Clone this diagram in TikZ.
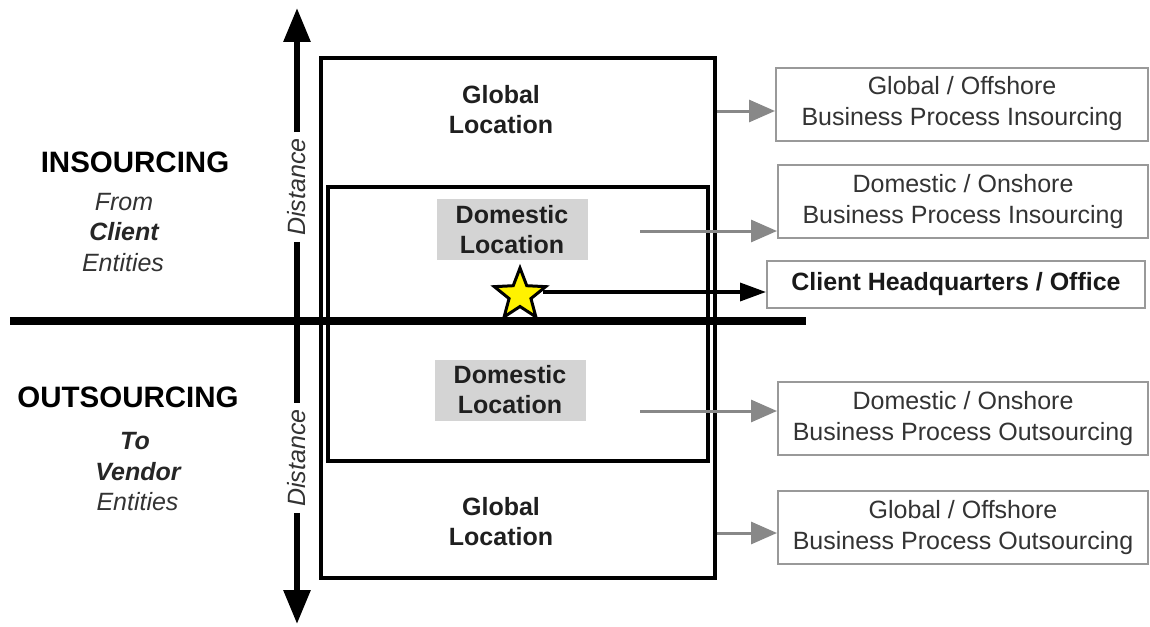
\documentclass[tikz,border=0pt]{standalone}
\usepackage{fontspec}
\setmainfont{Liberation Sans}
\usetikzlibrary{arrows.meta}
\definecolor{txt}{HTML}{333333}
\definecolor{boxline}{HTML}{999999}
\definecolor{arrowgray}{HTML}{888888}
\definecolor{locfill}{HTML}{D4D4D4}
\definecolor{staryellow}{HTML}{FFF200}
\tikzset{
  base/.style={font=\fontsize{25}{30}\selectfont, text=txt},
  region/.style={draw=black, line width=3.5pt, inner sep=0pt},
  loclabel/.style={base, text=black!88, font=\fontsize{25}{30}\selectfont\bfseries, align=center},
  locbox/.style={loclabel, fill=locfill, minimum width=151pt, minimum height=61pt, inner sep=0pt},
  resultbox/.style={base, font=\fontsize{25}{31}\selectfont, draw=boxline, line width=2pt, align=center,
    minimum width=372pt, minimum height=73pt, inner sep=0pt},
  heading/.style={base, text=black, font=\fontsize{29.5}{34}\selectfont\bfseries},
  sidetext/.style={base, font=\fontsize{25}{30}\selectfont\itshape},
  sidebold/.style={base, text=black!85, font=\fontsize{25}{30}\selectfont\bfseries\itshape},
  distlabel/.style={base, font=\fontsize{25}{30}\selectfont\itshape, rotate=90, inner sep=6pt},
  axis/.style={line width=6pt, black},
  axishead/.style={-{Triangle[length=34pt,width=26pt]}},
  grayarrow/.style={arrowgray, line width=3pt, -{Triangle[length=26pt,width=22pt]}},
  blackarrow/.style={black, line width=3.5pt, -{Triangle[length=26pt,width=18pt]}},
  starstyle/.style={fill=staryellow, draw=black, line width=3pt, line join=miter},
}
\begin{document}
\begin{tikzpicture}[x=1pt,y=-1pt]
\useasboundingbox (0,0) rectangle (1150,626);

% location regions
\node[region, minimum width=394pt, minimum height=520pt] (outer) at (518,318) {};
\node[region, minimum width=380pt, minimum height=274pt] (inner) at (518,324) {};

\node[loclabel] (gtop) at (501,110) {Global\\Location};
\node[loclabel] (gbot) at (501,522) {Global\\Location};
\node[locbox] (dtop) at (512,229.5) {Domestic\\Location};
\node[locbox] (dbot) at (510,390) {Domestic\\Location};

% client / vendor divide
\coordinate (hl) at (10,321);
\coordinate (hr) at (806,321);
\draw[line width=8pt] (hl) -- (hr);

% distance axis
\node[distlabel] (dist1) at (297,187) {Distance};
\node[distlabel] (dist2) at (297,458) {Distance};
\coordinate (ytop) at (297,8);
\coordinate (ybot) at (297,624);
\draw[axis, axishead] (dist1.east) -- (ytop);
\draw[axis] (dist1.west) -- (dist2.east);
\draw[axis, axishead] (dist2.west) -- (ybot);

% side headings
\node[heading] (ins) at (135,162) {INSOURCING};
\node[sidetext] (from) at (124,202) {From};
\node[sidebold] (client) at (124,232) {Client};
\node[sidetext] (ent1) at (123,263) {Entities};

\node[heading] (outs) at (128,397) {OUTSOURCING};
\node[sidebold] (to) at (135,441) {To};
\node[sidebold] (vendor) at (138,472) {Vendor};
\node[sidetext] (ent2) at (137.5,502) {Entities};

% result boxes
\node[resultbox] (r1) at (962,104) {Global / Offshore\\Business Process Insourcing};
\node[resultbox, minimum width=370pt] (r2) at (963,201.5) {Domestic / Onshore\\Business Process Insourcing};
\node[resultbox, minimum width=378pt, minimum height=47pt, text=black!90, font=\fontsize{25}{30}\selectfont\bfseries] (hq) at (956,284.5) {Client Headquarters / Office};
\node[resultbox, minimum width=370pt] (r4) at (963,418.5) {Domestic / Onshore\\Business Process Outsourcing};
\node[resultbox, minimum width=370pt] (r5) at (963,527.5) {Global / Offshore\\Business Process Outsourcing};

% connectors
\coordinate (a1) at (outer.east |- 0,111);
\coordinate (a2) at (640,231);
\coordinate (a4) at (640,411);
\coordinate (a5) at (outer.east |- 0,533);
\draw[grayarrow] (a1) -- (a1 -| r1.west);
\draw[grayarrow] (a2) -- (a2 -| r2.west);
\draw[grayarrow] (a4) -- (a4 -| r4.west);
\draw[grayarrow] (a5) -- (a5 -| r5.west);

% client headquarters star (five points, first point upward)
\coordinate (hqstar) at (520,295);
\coordinate (s0) at (543,292);
\draw[blackarrow] (s0) -- (s0 -| hq.west);
\draw[starstyle] (hqstar) +(-90:27)
  \foreach \k in {1,...,9} { -- +({-90+36*\k}:{ifthenelse(mod(\k,2)==0,27,11.5)}) } -- cycle;
\end{tikzpicture}
\end{document}
